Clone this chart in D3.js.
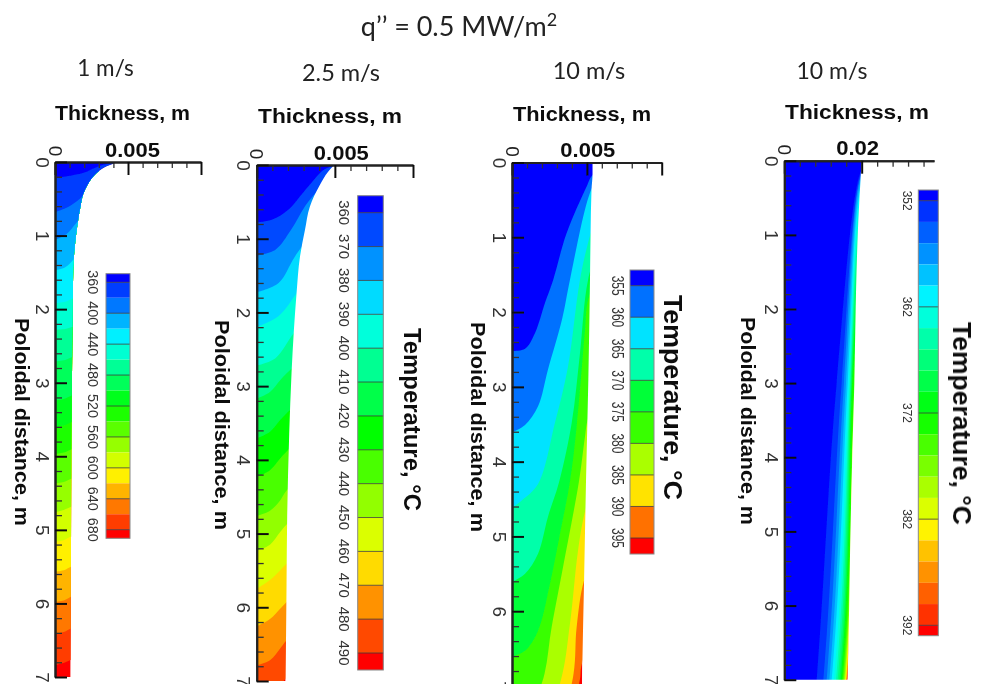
<!DOCTYPE html>
<html>
<head>
<meta charset="utf-8">
<title>Temperature contours</title>
<script src="https://cdn.jsdelivr.net/npm/d3@7"></script>
<style>
  body { margin: 0; background: #fff; }
  svg { display: block; }
  text { font-family: "Liberation Sans", Arial, sans-serif; }
  text.slide { font-family: Lato, "Open Sans", sans-serif; fill: #222; }
</style>
</head>
<body>
<svg id="chart" width="981" height="684"></svg>
<script>
// every isotherm is a list of [thickness m, poloidal distance m]
// film surface is a list of [poloidal distance m, thickness m]
const levels1 = [360, 380, 400, 420, 440, 460, 480, 500, 520, 540, 560, 580, 600, 620, 640, 660, 680];
const barTicks1 = [360, 400, 440, 480, 520, 560, 600, 640, 680];
const surface1 = [[0, .0043], [.023, .004], [.059, .00354], [.113, .00308], [.195, .00263], [.317, .00221], [.43, .00194], [.59, .00176], [.77, .0016], [1, .00144], [1.46, .00125], [2, .00121], [3, .00116], [4, .00112], [5, .0011], [7, .00107]];
const isotherms1 = [
  [[0, .22], [.0019, .15], [.0031, .05], [.0045, 0]],
  [[0, .68], [.0009, .61], [.0017, .5], [.003, .22], [.0045, 0]],
  [[0, 1.06], [.0008, .98], [.0015, .82], [.003, .5]],
  [[0, 1.47], [.0007, 1.43], [.0014, 1.3], [.003, 1]],
  [[0, 1.92], [.0007, 1.9], [.0013, 1.85], [.003, 1.75]],
  [[0, 2.28], [.0007, 2.27], [.0012, 2.24], [.003, 2.15]],
  [[0, 2.71], [.0007, 2.69], [.0012, 2.65], [.003, 2.55]],
  [[0, 3.24], [.0006, 3.22], [.0012, 3.17], [.003, 3.1]],
  [[0, 3.6], [.0006, 3.58], [.0012, 3.53], [.003, 3.45]],
  [[0, 3.97], [.0006, 3.95], [.0012, 3.9], [.003, 3.82]],
  [[0, 4.37], [.0006, 4.35], [.0012, 4.3], [.003, 4.2]],
  [[0, 4.76], [.0006, 4.73], [.0012, 4.68], [.003, 4.6]],
  [[0, 5.16], [.0006, 5.14], [.0012, 5.08], [.003, 5]],
  [[0, 5.57], [.0006, 5.55], [.0012, 5.49], [.003, 5.4]],
  [[0, 5.98], [.0006, 5.96], [.0012, 5.9], [.003, 5.8]],
  [[0, 6.41], [.0006, 6.39], [.0012, 6.33], [.003, 6.25]],
  [[0, 6.84], [.0006, 6.81], [.0012, 6.76], [.003, 6.68]]
];

const levels2 = [360, 370, 380, 390, 400, 410, 420, 430, 440, 450, 460, 470, 480, 490];
const barTicks2 = levels2;
const surface2 = [[0, .00496], [.09, .00457], [.27, .00404], [.565, .0034], [.88, .00309], [1.24, .00277], [1.74, .00255], [2.24, .00238], [2.82, .00223], [3.65, .00208], [4.77, .00195], [5.68, .00191], [6.58, .00187], [7, .00185]];
const isotherms2 = [
  [[0, .78], [.001, .74], [.002, .61], [.0033, .29], [.0044, .05], [.0055, 0]],
  [[0, 1.23], [.0012, 1.15], [.0022, .88], [.0033, .5], [.0055, 0]],
  [[0, 1.725], [.0014, 1.6], [.00245, 1.24], [.004, .8]],
  [[0, 2.2], [.0014, 2.05], [.00255, 1.74], [.004, 1.3]],
  [[0, 2.72], [.0012, 2.62], [.00238, 2.28], [.004, 1.9]],
  [[0, 3.17], [.00085, 3.08], [.0015, 2.92], [.0019, 2.83], [.004, 2.45]],
  [[0, 3.71], [.00085, 3.62], [.0015, 3.46], [.0019, 3.37], [.004, 2.97]],
  [[0, 4.23], [.00085, 4.14], [.0015, 3.98], [.0019, 3.89], [.004, 3.49]],
  [[0, 4.76], [.00085, 4.69], [.0015, 4.55], [.0019, 4.42], [.004, 4.01]],
  [[0, 5.23], [.00085, 5.15], [.0015, 4.98], [.0019, 4.88], [.004, 4.5]],
  [[0, 5.75], [.00085, 5.63], [.0015, 5.5], [.0019, 5.41], [.004, 5.03]],
  [[0, 6.26], [.00085, 6.16], [.0015, 6.02], [.0019, 5.93], [.004, 5.55]],
  [[0, 6.79], [.00085, 6.72], [.0015, 6.56], [.0019, 6.45], [.004, 6.06]],
  [[0, 7.3], [.00085, 7.22], [.0015, 7.06], [.0019, 6.96], [.004, 6.6]]
];

const levels3 = [355, 360, 365, 370, 375, 380, 385, 390, 395];
const barTicks3 = levels3;
const surface3 = [[0, .00538], [.15, .00538], [.37, .00531], [.95, .00525], [1.57, .00521], [2.9, .0051], [4.3, .00494], [5.64, .00481], [6.71, .0047], [7, .00468]];
const isotherms3 = [
  [[0, 2.52], [.00087, 2.49], [.00154, 2.28], [.0022, 1.88], [.00275, 1.57], [.00364, .95], [.00498, .325], [.00538, .17], [.007, 0]],
  [[0, 3.61], [.00087, 3.51], [.00174, 3.26], [.0024, 2.77], [.00334, 2.1], [.00387, 1.57], [.0052, .41], [.006, .1]],
  [[0, 4.62], [.00065, 4.52], [.00174, 4.3], [.00287, 3.48], [.00374, 2.73], [.00454, 1.57], [.00525, .95], [.006, .5]],
  [[0, 5.61], [.00087, 5.5], [.00174, 5.23], [.0024, 4.74], [.00315, 4.27], [.00399, 3.48], [.00454, 2.55], [.00508, 1.57], [.006, 1]],
  [[0, 6.61], [.00087, 6.53], [.00174, 6.26], [.00254, 5.63], [.0032, 4.97], [.00387, 4.27], [.00432, 3.53], [.00488, 2.24], [.00508, 1.84], [.006, 1.4]],
  [[0, 7.7], [.00198, 6.97], [.00265, 6.21], [.00341, 5.41], [.00447, 4.27], [.00488, 3.66], [.00506, 3.44], [.006, 3]],
  [[0, 8.6], [.0032, 6.97], [.00387, 6.17], [.00441, 5.19], [.0049, 4.65], [.006, 4]],
  [[0, 9.2], [.00399, 6.97], [.00432, 6.21], [.00481, 5.59], [.006, 5]],
  [[0, 9.6], [.00448, 6.97], [.00466, 6.71], [.006, 6]]
];

const levels4 = [352, 354, 356, 358, 360, 362, 364, 366, 368, 370, 372, 374, 376, 378, 380, 382, 384, 386, 388, 390, 392];
const barTicks4 = [352, 362, 372, 382, 392];
const surface4 = [[0, .02], [.17, .0198], [.85, .0191], [1.98, .01845], [3.02, .0181], [3.92, .0176], [5.28, .017], [6.63, .01655], [7, .01638]];
const isotherms4 = [
  [[0, 12], [.00836, 7], [.01353, 3], [.0199, .13], [.022, 0]],
  [[0, 12], [.01009, 7], [.01483, 3], [.0198, .18], [.022, 0]],
  [[0, 12], [.01095, 7], [.01543, 3], [.0197, .22], [.022, 0]],
  [[0, 12], [.01164, 7], [.01595, 3], [.0196, .3], [.022, 0]],
  [[0, 12], [.01224, 7], [.01638, 3], [.0194, .45], [.022, 0]],
  [[0, 12], [.01284, 7], [.01672, 3], [.0192, .65], [.022, 0]],
  [[0, 12], [.01336, 7], [.01698, 3], [.0191, .9], [.022, 0]],
  [[0, 12], [.01379, 7], [.01715, 3], [.0189, 1.2], [.022, 0]],
  [[0, 12], [.01422, 7], [.01733, 3], [.0187, 1.6], [.022, 0]],
  [[0, 12], [.01457, 7], [.0175, 3], [.0184, 2.1], [.022, 0]],
  [[0, 12], [.01483, 7], [.01758, 3], [.0182, 2.6], [.022, 0]],
  [[0, 12], [.01508, 7], [.0181, 3], [.022, 0]],
  [[0, 12], [.01534, 7], [.0179, 3.4], [.022, 0]],
  [[0, 12], [.01552, 7], [.0177, 3.7], [.022, 0]],
  [[0, 12], [.01569, 7], [.0175, 4.1], [.022, 0]],
  [[0, 12], [.01577, 7], [.0173, 4.5], [.022, 0]],
  [[0, 12], [.01595, 7], [.0172, 4.9], [.022, 0]],
  [[0, 12], [.01603, 7], [.017, 5.4], [.022, 0]],
  [[0, 12], [.01612, 7], [.0168, 5.9], [.022, 0]],
  [[0, 12], [.01621, 7], [.0166, 6.4], [.022, 0]],
  [[0, 12], [.01629, 7], [.0164, 6.9], [.022, 0]]
];

const distanceTicks = [0, 1, 2, 3, 4, 5, 6, 7];
const distanceMinor = [.2, .4, .6, .8, 1.2, 1.4, 1.6, 1.8, 2.2, 2.4, 2.6, 2.8, 3.2, 3.4, 3.6, 3.8, 4.2, 4.4, 4.6, 4.8, 5.2, 5.4, 5.6, 5.8, 6.2, 6.4, 6.6, 6.8];
const thinMajor = [0, .005, .01];
const thinMinor = [.001, .002, .003, .004, .006, .007, .008, .009];
const thickMajor = [0, .02];
const thickMinor = [.004, .008, .012, .016, .024, .028, .032, .036];

const svg = d3.select('#chart');

svg.append('defs').append('filter').attr('id', 'soft')
  .append('feGaussianBlur').attr('stdDeviation', .45);

const root = svg.append('g').attr('filter', 'url(#soft)');

// tecplot style small rainbow
const rainbow = d3.scaleLinear()
  .domain([0, .25, .5, .75, 1])
  .range(['#0000ff', '#00ffff', '#00ff00', '#ffff00', '#ff0000']);

function label(text, x, y, size, length, opts = {}) {
  let t = root.append('text')
    .attr('transform', `translate(${x},${y}) rotate(${opts.rotate ?? 90})`)
    .attr('text-anchor', 'middle')
    .attr('dominant-baseline', 'central')
    .attr('font-size', size)
    .attr('font-weight', opts.weight ?? 'bold')
    .attr('fill', opts.fill ?? '#111')
    .text(text);
  if (length) {
    t.attr('textLength', length).attr('lengthAdjust', 'spacingAndGlyphs');
  }
  return t;
}

function drawPanel(p, idx) {
  let x = d3.scaleLinear().domain([0, p.maxThickness]).range([p.x0, p.x1]);
  let y = d3.scaleLinear().domain([0, 7]).range([p.y0, p.y7]);

  let g = root.append('g');
  let clipId = `film${idx}`;

  let filmArea = d3.area()
    .curve(d3.curveMonotoneY)
    .y((d) => y(d[0]))
    .x0(x(0))
    .x1((d) => x(d[1]));

  g.append('clipPath').attr('id', clipId)
    .append('path').attr('d', filmArea(p.surface));

  let bands = p.levels.length;
  let bandColor = (i) => rainbow(i / bands);

  let film = g.append('g').attr('clip-path', `url(#${clipId})`);
  film.append('path').attr('d', filmArea(p.surface)).attr('fill', bandColor(bands));

  let isoArea = d3.area()
    .curve(d3.curveCatmullRom.alpha(.5))
    .x((d) => x(d[0]))
    .y0(y(0))
    .y1((d) => y(d[1]));

  // hot to cold, each one paints everything colder than it
  for (let i = p.isotherms.length - 1; i >= 0; i--) {
    film.append('path').attr('d', isoArea(p.isotherms[i])).attr('fill', bandColor(i));
  }

  // axes, ticks point into the plot
  let addTicks = (axis, major) => {
    let a = g.append('g').call(axis);
    a.selectAll('line').attr('stroke', major ? '#111' : '#333').attr('stroke-width', major ? 2 : 1.3);
    a.select('.domain').attr('stroke', '#222').attr('stroke-width', 2);
    return a;
  };

  addTicks(d3.axisTop(x).tickValues(p.thickMinor).tickSize(-6).tickSizeOuter(0).tickFormat(() => ''), false)
    .attr('transform', `translate(0,${p.y0})`);
  addTicks(d3.axisTop(x).tickValues(p.thickMajor).tickSize(-13).tickSizeOuter(0).tickFormat(() => ''), true)
    .attr('transform', `translate(0,${p.y0})`);

  addTicks(d3.axisLeft(y).tickValues(distanceMinor).tickSize(-7).tickSizeOuter(0).tickFormat(() => ''), false)
    .attr('transform', `translate(${p.x0},0)`);
  let yAxis = addTicks(d3.axisLeft(y).tickValues(distanceTicks).tickSize(-12).tickSizeOuter(0).tickFormat(d3.format('d')), true)
    .attr('transform', `translate(${p.x0},0)`);
  yAxis.selectAll('text')
    .attr('x', null).attr('dy', null)
    .attr('transform', `translate(-13,0) rotate(90)`)
    .attr('text-anchor', 'middle')
    .attr('dominant-baseline', 'central')
    .attr('font-size', 19)
    .attr('fill', '#333')
    .attr('font-family', '"Liberation Sans", Arial, sans-serif');

  label('0', p.x0, p.y0 - 11, 19, null, { weight: 'normal', fill: '#222' });
  label(p.majorLabel, x(p.majorValue) + p.majorDx, p.y0 - 13, 21, p.majorLength, { rotate: 0 });
  label('Thickness, m', p.titleX, p.titleY, 20, p.titleLength, { rotate: 0 });
  label('Poloidal distance, m', p.poloidalX, p.poloidalY, 20.5, p.poloidalLength);

  // colour bar
  let b = d3.scaleLinear()
    .domain([p.levels[0], p.levels[bands - 1]])
    .range([p.barLevelTop, p.barLevelBottom]);

  let edges = [p.barTop, ...p.levels.map((v) => b(v)), p.barBottom];
  d3.pairs(edges).forEach(([top, bottom], i) => {
    g.append('rect')
      .attr('x', p.barX).attr('y', top)
      .attr('width', p.barWidth).attr('height', bottom - top)
      .attr('fill', bandColor(i));
  });
  p.barTicks.forEach((v) => {
    g.append('line')
      .attr('x1', p.barX).attr('x2', p.barX + p.barWidth)
      .attr('y1', b(v)).attr('y2', b(v))
      .attr('stroke', '#333').attr('stroke-opacity', .75);
    label(v, p.barLabelX, b(v), p.barLabelSize, p.barLabelLength, { weight: 'normal', fill: '#333' });
  });
  g.append('rect')
    .attr('x', p.barX).attr('y', p.barTop)
    .attr('width', p.barWidth).attr('height', p.barBottom - p.barTop)
    .attr('fill', 'none').attr('stroke', '#888').attr('stroke-width', 1);

  if (p.tempX) {
    label('Temperature, °C', p.tempX, p.tempY, p.tempSize, p.tempLength);
  }

  label(p.speed, p.speedX, p.speedY, p.speedSize, null, { rotate: 0, weight: 'normal', fill: '#222' }).attr('class', 'slide');
}

const panels = [
  {
    speed: '1 m/s', speedX: 105.5, speedY: 67, speedSize: 22.5,
    levels: levels1, barTicks: barTicks1, surface: surface1, isotherms: isotherms1,
    maxThickness: .01, thickMajor: thinMajor, thickMinor: thinMinor,
    x0: 55, x1: 201, y0: 162, y7: 677,
    majorLabel: '0.005', majorValue: .005, majorDx: 4.5, majorLength: 55,
    titleX: 122.5, titleY: 113, titleLength: 135,
    poloidalX: 22, poloidalY: 422, poloidalLength: 208,
    barX: 106, barWidth: 24, barTop: 273.7, barBottom: 538.3, barLevelTop: 282.3, barLevelBottom: 529.7,
    barLabelX: 93, barLabelSize: 15, barLabelLength: 24
  },
  {
    speed: '2.5 m/s', speedX: 341, speedY: 72, speedSize: 23.5,
    levels: levels2, barTicks: barTicks2, surface: surface2, isotherms: isotherms2,
    maxThickness: .01, thickMajor: thinMajor, thickMinor: thinMinor,
    x0: 256.7, x1: 413, y0: 165, y7: 681,
    majorLabel: '0.005', majorValue: .005, majorDx: 6.5, majorLength: 55,
    titleX: 330, titleY: 116, titleLength: 144,
    poloidalX: 222, poloidalY: 425, poloidalLength: 210,
    barX: 357.7, barWidth: 25.6, barTop: 195.7, barBottom: 670, barLevelTop: 212.7, barLevelBottom: 653,
    barLabelX: 344, barLabelSize: 15, barLabelLength: 25,
    tempX: 412, tempY: 419.5, tempSize: 23, tempLength: 183
  },
  {
    speed: '10 m/s', speedX: 589, speedY: 70, speedSize: 23.5,
    levels: levels3, barTicks: barTicks3, surface: surface3, isotherms: isotherms3,
    maxThickness: .01, thickMajor: thinMajor, thickMinor: thinMinor,
    x0: 512, x1: 661.7, y0: 162.5, y7: 686,
    majorLabel: '0.005', majorValue: .005, majorDx: 1, majorLength: 55,
    titleX: 582, titleY: 114, titleLength: 138,
    poloidalX: 478, poloidalY: 427, poloidalLength: 210,
    barX: 630, barWidth: 24, barTop: 270, barBottom: 554, barLevelTop: 285.7, barLevelBottom: 538,
    barLabelX: 617, barLabelSize: 17, barLabelLength: 20,
    tempX: 673, tempY: 397.5, tempSize: 26, tempLength: 205
  },
  {
    speed: '10 m/s', speedX: 832, speedY: 70, speedSize: 23,
    levels: levels4, barTicks: barTicks4, surface: surface4, isotherms: isotherms4,
    maxThickness: .0387, thickMajor: thickMajor, thickMinor: thickMinor,
    x0: 784.3, x1: 934, y0: 160.7, y7: 679.7,
    majorLabel: '0.02', majorValue: .02, majorDx: -4, majorLength: 43,
    titleX: 857, titleY: 112, titleLength: 144,
    poloidalX: 748, poloidalY: 421, poloidalLength: 208,
    barX: 918.3, barWidth: 20, barTop: 190, barBottom: 635.7, barLevelTop: 200.7, barLevelBottom: 625.3,
    barLabelX: 906.7, barLabelSize: 12, barLabelLength: 20,
    tempX: 962, tempY: 423.5, tempSize: 26, tempLength: 203
  }
];

panels.forEach(drawPanel);

let title = root.append('text')
  .attr('class', 'slide')
  .attr('x', 459).attr('y', 36)
  .attr('text-anchor', 'middle')
  .attr('font-size', 27);
title.append('tspan').text('q’’ = 0.5 MW/m');
title.append('tspan').attr('dy', -10).attr('font-size', 18).text('2');
</script>
</body>
</html>
